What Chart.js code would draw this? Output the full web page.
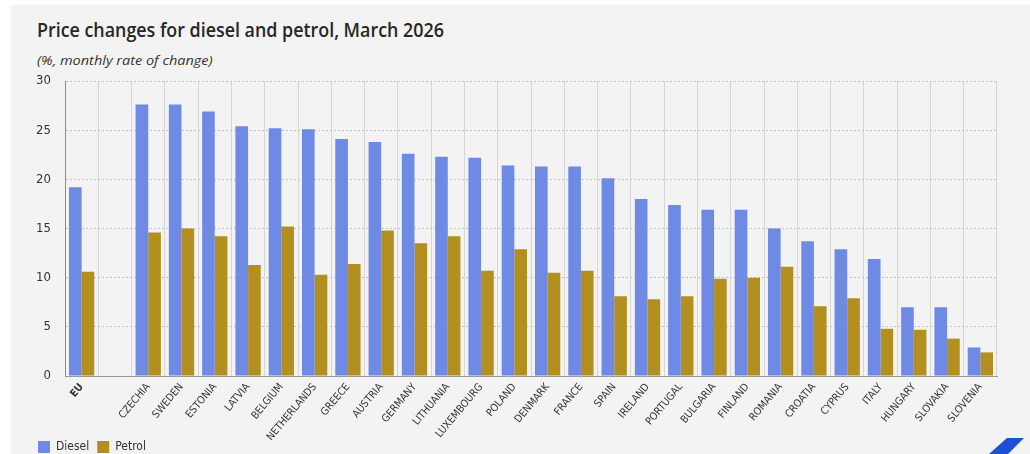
<!DOCTYPE html>
<html>
<head>
<meta charset="utf-8">
<script src="https://cdn.jsdelivr.net/npm/chart.js@4"></script>
<style>
    html, body { margin: 0; padding: 0; background: #ffffff; overflow: hidden; }
    .panel { position: absolute; left: 11px; top: 5px; width: 1019px; height: 449px; background: #f3f3f3; }
    .title { position: absolute; left: 37px; top: 17px; display: inline-block; transform-origin: 0 0; font-family: "Open Sans", sans-serif; font-weight: 600; font-size: 19px; line-height: 26px; color: #262626; white-space: nowrap; }
    .subtitle { position: absolute; left: 37px; top: 51px; display: inline-block; transform-origin: 0 0; font-family: "Open Sans", sans-serif; font-style: italic; font-size: 13px; line-height: 18px; color: #333333; white-space: nowrap; }
    .chart-wrap { position: absolute; left: 0; top: 0; width: 1030px; height: 463px; }
    .logo { position: absolute; left: 985px; top: 437px; width: 45px; height: 17px; background: #1f4fd6; clip-path: polygon(22px 1px, 39px 1px, 23px 17px, 4px 17px); }
</style>
</head>
<body>
<div class="panel"></div>
<div class="title" id="title">Price changes for diesel and petrol, March 2026</div>
<div class="subtitle" id="subtitle">(%, monthly rate of change)</div>
<div class="chart-wrap"><canvas id="priceChart"></canvas></div>
<div class="logo"></div>
<script>
    const countries = ["EU", "", "CZECHIA", "SWEDEN", "ESTONIA", "LATVIA", "BELGIUM", "NETHERLANDS", "GREECE",
        "AUSTRIA", "GERMANY", "LITHUANIA", "LUXEMBOURG", "POLAND", "DENMARK", "FRANCE", "SPAIN", "IRELAND",
        "PORTUGAL", "BULGARIA", "FINLAND", "ROMANIA", "CROATIA", "CYPRUS", "ITALY", "HUNGARY", "SLOVAKIA", "SLOVENIA"];

    const diesel = [19.2, null, 27.6, 27.6, 26.9, 25.4, 25.2, 25.1, 24.1, 23.8, 22.6, 22.3, 22.2, 21.4, 21.3,
        21.3, 20.1, 18.0, 17.4, 16.9, 16.9, 15.0, 13.7, 12.9, 11.9, 7.0, 7.0, 2.9];

    const petrol = [10.6, null, 14.6, 15.0, 14.2, 11.3, 15.2, 10.3, 11.4, 14.8, 13.5, 14.2, 10.7, 12.9, 10.5,
        10.7, 8.1, 7.8, 8.1, 9.9, 10.0, 11.1, 7.1, 7.9, 4.8, 4.7, 3.8, 2.4];

    const yTicks = [0, 5, 10, 15, 20, 25, 30];

    const labelFont = "'DejaVu Sans Condensed', 'Liberation Sans Narrow', sans-serif";

    // squeeze the heading texts to the width they take in the original
    const fitWidth = (id, w) => {
        const el = document.getElementById(id);
        el.style.transform = "scaleX(" + (w / el.offsetWidth) + ")";
    };
    fitWidth("title", 407);
    fitWidth("subtitle", 176);

    const ctx = document.getElementById("priceChart").getContext("2d");
    new Chart(ctx, {
        type: "bar",
        data: {
            labels: countries,
            datasets: [
                {
                    label: "Diesel",
                    data: diesel,
                    backgroundColor: "#6f8ae4",
                    borderWidth: 0,
                },
                {
                    label: "Petrol",
                    data: petrol,
                    backgroundColor: "#b28f1f",
                    borderWidth: 0,
                },
            ],
        },
        options: {
            responsive: true,
            maintainAspectRatio: false,
            animation: false,
            categoryPercentage: 0.76,
            barPercentage: 1.0,
            layout: {
                padding: { left: 30, right: 33, top: 81, bottom: 0 },
            },
            scales: {
                x: {
                    grid: { color: "#d6d6d6", lineWidth: 1, drawTicks: false, offset: true },
                    border: { display: true, color: "#9a9a9a", width: 1 },
                    ticks: {
                        autoSkip: false,
                        maxRotation: 50,
                        minRotation: 50,
                        padding: 5,
                        color: "#333333",
                        font: (c) => ({ family: labelFont, size: 10.5, weight: c.index === 0 ? "bold" : "normal" }),
                    },
                    afterFit: (scale) => {
                        scale.height = 57;
                        // long names run down next to the legend, so don't clip them to the axis box
                        scale._computeLabelArea = () => null;
                    },
                },
                y: {
                    min: 0,
                    max: 30,
                    afterBuildTicks: (scale) => { scale.ticks = yTicks.map(v => ({ value: v })); },
                    grid: { color: "#c4c4c4", lineWidth: 1, drawTicks: false },
                    border: { display: true, color: "#8a8a8a", width: 1, dash: [2, 2] },
                    ticks: {
                        padding: 14,
                        color: "#333333",
                        font: { family: labelFont, size: 13 },
                    },
                    afterFit: (scale) => { scale.width = 35; },
                },
            },
            plugins: {
                legend: {
                    position: "bottom",
                    align: "start",
                    labels: {
                        boxWidth: 12,
                        boxHeight: 12,
                        padding: 8,
                        color: "#333333",
                        font: { family: labelFont, size: 12 },
                    },
                },
                tooltip: { enabled: false },
            },
        },
    });
</script>
</body>
</html>
